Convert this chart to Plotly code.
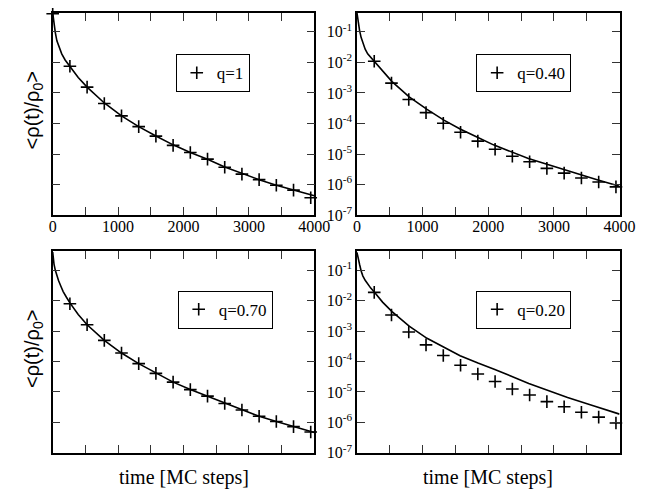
import plotly.graph_objects as go

# ---------------- data ----------------
t_marks = [0, 263, 526, 789, 1052, 1315, 1578, 1841, 2104, 2367, 2630, 2893, 3156, 3419, 3682, 3945]

# q = 1 (top-left)
q1_marks = [0.39, 7.5e-3, 1.55e-3, 4.5e-4, 1.78e-4, 7.9e-5, 3.85e-5, 1.93e-5, 1.12e-5, 6.8e-6,
            3.7e-6, 2.2e-6, 1.45e-6, 9.5e-7, 6.6e-7, 3.7e-7]
q1_curve_t = [0, 8, 20, 40, 64, 100, 138, 190, 263, 390, 526, 789, 1052, 1315, 1578, 1841, 2104,
              2367, 2630, 2893, 3156, 3419, 3682, 4000]
q1_curve = [0.42, 0.28, 0.17, 0.095, 0.051, 0.030, 0.019, 0.012, 7.6e-3, 3.2e-3, 1.55e-3, 4.7e-4,
            1.78e-4, 7.9e-5, 3.9e-5, 2.0e-5, 1.12e-5, 6.8e-6, 3.8e-6, 2.3e-6, 1.45e-6, 9.5e-7,
            6.6e-7, 4.3e-7]

# q = 0.40 (top-right)
q040_marks = [1.09e-2, 2.1e-3, 6.1e-4, 2.27e-4, 1.02e-4, 5.2e-5, 2.65e-5, 1.43e-5, 8.5e-6, 5.6e-6,
              3.4e-6, 2.37e-6, 1.64e-6, 1.22e-6, 8.4e-7]
q040_curve_t = [0, 10, 20, 40, 64, 89, 125, 163, 210, 267, 390, 534, 795, 1067, 1324, 1571, 1843,
                2079, 2611, 3128, 3645, 4000]
q040_curve = [0.42, 0.28, 0.20, 0.11, 0.065, 0.042, 0.027, 0.019, 0.0145, 0.0110, 5.0e-3, 2.35e-3,
              7.4e-4, 2.9e-4, 1.29e-4, 6.6e-5, 3.5e-5, 2.0e-5, 7.2e-6, 3.2e-6, 1.48e-6, 8.9e-7]

# q = 0.70 (bottom-left)
q070_marks = [7.97e-3, 1.62e-3, 4.98e-4, 1.91e-4, 8.5e-5, 4.07e-5, 2.1e-5, 1.19e-5, 7.3e-6, 4.15e-6,
              2.54e-6, 1.58e-6, 1.07e-6, 7.2e-7, 4.8e-7]
q070_curve_t = [0, 8, 20, 40, 64, 89, 125, 160, 210, 263, 390, 526, 789, 1052, 1315, 1578, 1841,
                2104, 2367, 2630, 2893, 3156, 3419, 3682, 3945, 4000]
q070_curve = [0.40, 0.26, 0.16, 0.10, 0.065, 0.046, 0.030, 0.020, 0.013, 8.5e-3, 3.5e-3, 1.62e-3,
              5.0e-4, 1.9e-4, 8.5e-5, 4.1e-5, 2.1e-5, 1.2e-5, 7.2e-6, 4.2e-6, 2.5e-6, 1.58e-6,
              1.07e-6, 7.2e-7, 4.8e-7, 4.6e-7]

# q = 0.20 (bottom-right)
q020_marks = [1.88e-2, 3.38e-3, 9.4e-4, 3.53e-4, 1.57e-4, 7.5e-5, 3.87e-5, 2.2e-5, 1.25e-5, 7.9e-6,
              4.8e-6, 3.25e-6, 2.14e-6, 1.48e-6, 9.5e-7]
q020_curve_t = [0, 10, 20, 40, 64, 89, 125, 163, 210, 267, 390, 534, 795, 1067, 1324, 1571, 1843,
                2100, 2617, 3208, 3600, 4000]
q020_curve = [0.39, 0.29, 0.22, 0.155, 0.095, 0.066, 0.047, 0.035, 0.026, 0.019, 9.0e-3, 4.4e-3,
              1.45e-3, 5.8e-4, 2.9e-4, 1.55e-4, 8.9e-5, 5.5e-5, 1.9e-5, 6.6e-6, 3.5e-6, 1.86e-6]

legend_labels = ["q=1", "q=0.40", "q=0.70", "q=0.20"]
x_tickvals = [0, 1000, 2000, 3000, 4000]
x_ticktext = ["0", "1000", "2000", "3000", "4000"]
y_tickvals = [1e-7, 1e-6, 1e-5, 1e-4, 1e-3, 1e-2, 1e-1]
y_ticktext = ["10<sup>-7</sup>", "10<sup>-6</sup>", "10<sup>-5</sup>", "10<sup>-4</sup>",
              "10<sup>-3</sup>", "10<sup>-2</sup>", "10<sup>-1</sup>"]
y_title = "&lt;ρ(t)/ρ<sub>0</sub>&gt;"
x_title = "time [MC steps]"

# ---------------- figure ----------------
W, H = 645, 493
SERIF = "Liberation Serif, Times New Roman, serif"
SANS = "Liberation Sans, Arial, sans-serif"

panels = [
    ("", (42, 312), (5, 211), t_marks, q1_marks, q1_curve_t, q1_curve, "legend", True, False),
    ("2", (356, 627), (5, 211), t_marks[1:], q040_marks, q040_curve_t, q040_curve, "legend2", True, True),
    ("3", (42, 312), (248, 453), t_marks[1:], q070_marks, q070_curve_t, q070_curve, "legend3", False, False),
    ("4", (356, 627), (248, 453), t_marks[1:], q020_marks, q020_curve_t, q020_curve, "legend4", False, True),
]
legend_pos = [(169, 47), (479, 47), (171, 288), (479, 288)]

fig = go.Figure()
layout = dict(width=W, height=H, margin=dict(l=0, r=0, t=0, b=0),
              font=dict(family=SERIF, color="black"),
              paper_bgcolor="white", plot_bgcolor="white", showlegend=True)

for i, (sfx, xd, yd, mt, mv, ct, cv, leg, showx, showy) in enumerate(panels):
    xa = "x" + sfx
    ya = "y" + sfx
    fig.add_trace(go.Scatter(x=ct, y=cv, mode="lines", xaxis=xa, yaxis=ya,
                             line=dict(color="black", width=1.6),
                             showlegend=False, hoverinfo="skip"))
    fig.add_trace(go.Scatter(x=mt, y=mv, mode="markers", xaxis=xa, yaxis=ya,
                             name=legend_labels[i], legend=leg, cliponaxis=False,
                             marker=dict(symbol="cross-thin", size=9,
                                         line=dict(color="black", width=1.6), color="black")))
    xkey = "xaxis" + sfx
    ykey = "yaxis" + sfx
    layout[xkey] = dict(domain=[xd[0] / W, xd[1] / W], anchor=ya, range=[0, 4000],
                        showline=True, linecolor="black", linewidth=1.5, mirror="allticks",
                        ticks="inside", ticklen=8, tickwidth=1, tickcolor="#333",
                        tickvals=x_tickvals, ticktext=x_ticktext, showticklabels=showx,
                        ticklabelstandoff=-4,
                        tickfont=dict(family=SERIF, size=16, color="black"),
                        minor=dict(tickvals=[500, 1500, 2500, 3500], ticks="inside", ticklen=8,
                                   tickwidth=1, tickcolor="#333"),
                        showgrid=False, zeroline=False, fixedrange=True)
    layout[ykey] = dict(domain=[1 - yd[1] / H, 1 - yd[0] / H], anchor=xa, type="log",
                        range=[-7, -0.38], showline=True, linecolor="black", linewidth=1.5,
                        mirror="allticks", ticks="inside", ticklen=8, tickwidth=1, tickcolor="#333",
                        tickvals=y_tickvals, ticktext=y_ticktext, showticklabels=showy,
                        tickfont=dict(family=SERIF, size=16, color="black"),
                        showgrid=False, zeroline=False, fixedrange=True)
    lx, ly = legend_pos[i]
    layout[leg] = dict(x=lx / W, y=1 - ly / H, xanchor="left", yanchor="top",
                       bgcolor="white", bordercolor="black", borderwidth=1,
                       font=dict(family=SERIF, size=17, color="black"),
                       itemwidth=30, tracegroupgap=0)

annotations = [
    dict(text=y_title, x=7 / W, y=1 - 104 / H, xref="paper", yref="paper", textangle=-90,
         showarrow=False, font=dict(family=SANS, size=20, color="black"),
         xanchor="left", yanchor="middle"),
    dict(text=y_title, x=7 / W, y=1 - 347 / H, xref="paper", yref="paper", textangle=-90,
         showarrow=False, font=dict(family=SANS, size=20, color="black"),
         xanchor="left", yanchor="middle"),
    dict(text=x_title, x=177 / W, y=1 - 478 / H, xref="paper", yref="paper",
         showarrow=False, font=dict(family=SERIF, size=20, color="black"),
         xanchor="center", yanchor="middle"),
    dict(text=x_title, x=491.5 / W, y=1 - 478 / H, xref="paper", yref="paper",
         showarrow=False, font=dict(family=SERIF, size=20, color="black"),
         xanchor="center", yanchor="middle"),
]
layout["annotations"] = annotations
fig.update_layout(**layout)
fig.write_html("out.html", config={"displayModeBar": False})
